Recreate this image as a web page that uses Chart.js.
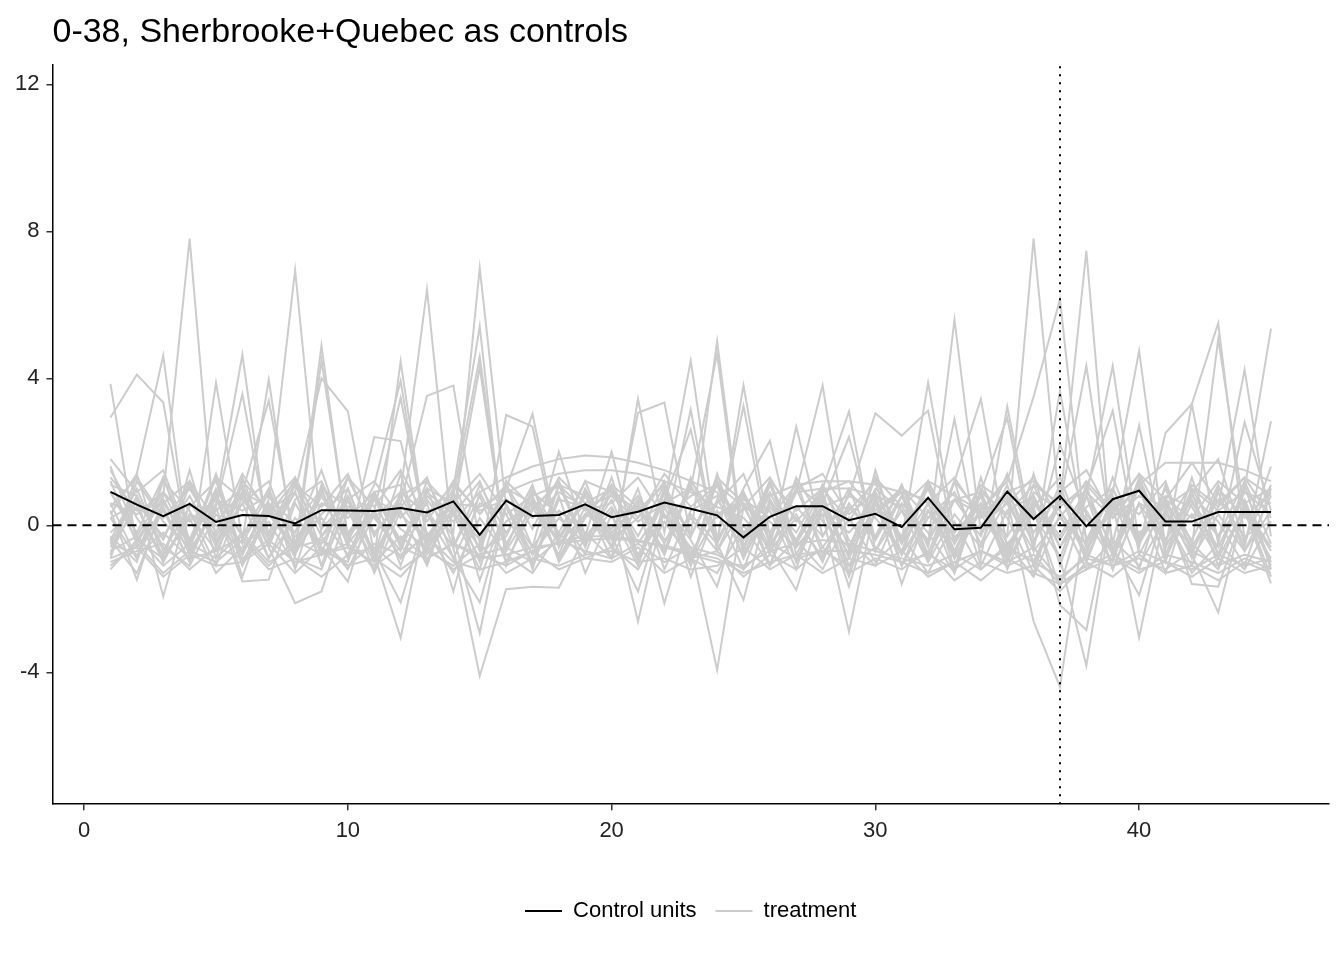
<!DOCTYPE html>
<html>
<head>
<meta charset="UTF-8">
<title>0-38, Sherbrooke+Quebec as controls</title>
<script src="https://cdn.jsdelivr.net/npm/chart.js"></script>
<style>
  body { margin: 0; background: #fff; }
  #chart { display: block; }
</style>
</head>
<body>
<canvas id="chart" width="1344" height="960"></canvas>
<script>
// axis setup
const periods = [1, 2, 3, 4, 5, 6, 7, 8, 9, 10, 11, 12, 13, 14, 15, 16, 17, 18, 19, 20, 21, 22, 23,
                 24, 25, 26, 27, 28, 29, 30, 31, 32, 33, 34, 35, 36, 37, 38, 39, 40, 41, 42, 43, 44, 45];
const xTicks = [0, 10, 20, 30, 40];
const yTicks = [-4, 0, 4, 8, 12];
const xRange = [-1.2, 47.2];
const yRange = [-7.59, 12.53];
const treatmentStart = 37;

// black line
const controlUnits = [
  0.91, 0.56, 0.25, 0.58, 0.09, 0.28, 0.25, 0.05, 0.41, 0.40,
  0.39, 0.47, 0.35, 0.65, -0.26, 0.67, 0.25, 0.28, 0.57, 0.22,
  0.37, 0.62, 0.45, 0.27, -0.33, 0.23, 0.52, 0.52, 0.14, 0.31,
  -0.05, 0.75, -0.11, -0.07, 0.92, 0.17, 0.80, -0.03, 0.71, 0.94,
  0.10, 0.10, 0.36, 0.36, 0.36
];

// grey lines (treatment placebo runs)
const tr01 = [1.2, -0.5, 0.8, 7.8, -0.6, 1.1, -0.4, 0.9, -0.8, 1.3, -0.2, 0.6, -0.5, 0.4, 4.3,
  -0.7, 0.5, 1.1, 0.8, -0.3, 0.7, -0.5, 1.0, 4.67, -0.8, 0.6, -0.2, 1.1, -0.6, 0.9,
  -0.4, 1.2, -0.9, 0.5, -0.3, 7.8, 0.4, -0.8, 1.3, -0.5, 0.7, -0.6, 5.07, 0.3, -0.9];
const tr02 = [-0.4, 1.0, -0.7, 0.5, 1.2, -0.8, 0.7, 6.94, -0.3, 0.4, -1.0, 0.9, 6.42, -0.6, 1.1,
  -0.2, 0.8, -0.9, 0.3, 1.0, -0.5, 0.6, 4.48, -0.4, 0.9, -1.1, 0.5, -0.3, 1.0, -0.7,
  0.4, -0.5, 5.6, -0.2, 0.8, -1.0, 0.6, 7.47, -0.9, 1.2, -0.4, 0.7, -0.8, 1.0, 5.35];
const tr03 = [0.6, -0.9, 1.3, -0.5, 0.8, -0.3, 1.0, -0.7, 4.89, -0.4, 0.9, -0.6, 1.2, -0.2, 7.0,
  0.5, -0.8, 1.1, -0.4, 0.7, -1.0, 0.9, -0.3, 5.01, -0.6, 1.2, -0.5, 0.8, -0.9, 0.6,
  -0.3, 1.0, -0.7, 0.4, 1.2, 3.5, 6.15, -0.5, 0.9, 4.75, -0.6, 3.3, 5.5, -0.4, 1.1];
const tr04 = [0.3, 1.4, 4.62, -0.8, 0.6, 4.64, -0.5, 1.1, -0.3, 0.8, -0.9, 4.46, -0.4, 1.0, 5.41,
  -1.1, 0.7, -0.2, 1.2, -0.6, 0.5, -0.8, 1.1, -0.5, 3.81, -0.3, 0.9, 3.81, -0.7, 1.3,
  -0.4, 3.88, -0.2, 0.6, -1.0, 1.1, -0.6, 0.8, 4.34, -0.5, 1.0, -0.7, 0.5, 4.23, -0.3];
const tr05 = [3.85, -0.6, 0.4, -1.0, 3.88, -0.4, 3.96, -0.8, 4.48, -0.3, 1.1, 3.93, -0.5, 0.8, 4.59,
  -0.6, 1.0, -0.3, 0.6, -0.9, 3.44, -0.2, 3.15, -0.7, 0.9, -0.4, 1.2, -0.8, 0.5, -0.3,
  1.1, -0.6, 2.89, -0.9, 3.23, -0.4, 0.6, 4.34, -0.5, 2.72, -0.8, 1.0, -0.3, 0.7, -1.0];
const tr06 = [2.93, 4.1, 3.34, -0.7, 0.5, 3.57, -0.3, 0.9, 4.0, 3.1, -0.8, 0.6, 3.52, 3.8, -0.5,
  1.0, 3.03, -0.4, 0.8, -0.6, 3.06, 3.34, -0.3, 1.1, -0.9, 0.5, -0.4, 1.0, 3.1, -0.7,
  0.8, -0.5, 1.2, 3.44, -0.6, 0.7, -0.3, 1.0, 3.12, -0.8, 0.6, -0.4, 1.1, -0.6, 2.83];
const tr07 = [-0.8, 0.7, -0.4, 1.2, -0.6, 0.9, 3.39, -0.5, 1.0, -0.9, 0.4, 3.47, -0.3, 0.7, -1.0,
  3.0, 2.69, -0.6, 0.9, -0.2, 0.6, -0.8, 1.3, -0.4, 3.25, -0.6, 2.68, -0.3, 0.8, 3.05,
  2.44, 3.12, -0.5, 0.9, 2.93, -0.7, 3.66, -0.4, 1.0, -0.6, 2.51, 3.3, -0.5, 2.8, 0.4];
const tr08 = [1.6, -0.3, 0.9, -0.5, 1.4, -0.8, 0.6, -0.2, 1.5, -0.6, 2.4, 2.29, -0.7, 0.5, -0.4,
  1.1, -0.6, 2.0, -0.3, 2.0, -0.9, 0.7, 2.6, -0.5, 1.0, 2.3, -0.8, 0.6, 2.4, -0.4,
  1.1, -0.9, 0.7, -0.3, 1.4, -0.6, 2.2, 0.3, -0.7, 1.3, -0.4, 0.9, 1.8, -0.5, 1.6];
const tr09 = [-0.6, 0.5, -1.0, 0.3, -0.7, 0.6, -0.9, 0.2, -0.5, 0.7, -0.8, -3.06, 0.4, -0.6, -4.1,
  -1.74, -1.67, -1.7, -0.3, 0.5, -0.8, 0.3, -0.6, -3.94, 0.5, -0.7, 0.2, -0.9, 0.6, -0.4,
  0.8, -1.0, 0.3, -0.6, 0.7, -2.62, -4.4, 0.4, -0.8, 0.6, -0.5, 0.3, -0.9, 0.5, -0.6];
const tr10 = [0.2, -0.9, 0.6, -0.4, 0.9, -1.1, 0.3, -0.7, 0.8, -0.5, 0.4, -0.9, 0.7, -0.3, -2.94,
  0.6, -0.8, 0.2, -0.5, 0.4, -2.62, 0.5, -0.9, 0.7, -0.4, 0.9, -0.6, 0.3, -2.9, 0.6,
  -0.8, 0.4, -0.7, 0.8, -0.5, 0.3, -0.9, -3.83, 0.6, -3.06, 0.4, -0.8, -2.37, 0.5, -0.7];
const tr11 = [-0.5, 0.8, -1.94, 0.6, -0.3, 0.9, -0.6, -2.12, -1.8, 0.4, -0.7, -2.1, 0.3, -0.9, -2.1,
  0.5, -0.6, 0.4, -0.2, -0.9, 0.6, -2.12, 0.3, -0.5, -2.03, 0.7, -0.4, 0.5, -0.8, 0.9,
  -0.5, 0.6, -0.9, 0.4, -0.6, 0.5, -2.17, -2.85, 0.7, -0.4, 0.6, -0.9, 0.3, -0.7, 0.8];
const tr12 = [0.4, -1.48, 0.7, -0.8, 0.5, -1.53, -1.48, 0.6, -0.6, -1.53, 0.8, -0.4, 0.6, -1.8, 0.9,
  -0.5, 0.7, -0.9, 0.5, -0.3, -1.8, 0.6, -0.4, -1.67, 0.8, -0.6, -1.76, 0.5, -1.67, 0.7,
  -1.6, 0.4, -0.8, 0.9, -0.7, 0.6, -0.4, 0.8, -0.6, -1.9, 0.5, -1.6, -1.67, 0.4, -1.58];
const tr13 = [0.9, -0.4, 0.7, -0.6, 1.0, -0.3, 0.5, -0.8, 0.6, 0.2, 0.9, -0.5, 0.8, 0.1, 0.9,
  1.3, 1.6, 1.8, 1.9, 1.85, 1.7, 1.5, 1.2, 0.9, -0.4, 0.8, 1.1, 1.2, 1.2, 1.1,
  0.9, 0.7, -0.5, 0.6, -0.3, 0.8, -0.6, 0.5, 1.0, -0.4, 0.7, 1.7, 1.7, 1.5, 1.2];
const tr14 = [0.2, 0.6, -0.3, 0.8, -0.5, 1.2, 0.4, -0.6, 0.9, -0.2, 0.7, 0.3, -0.4, 0.6, 0.5,
  0.9, 1.2, 1.4, 1.5, 1.5, 1.4, 1.2, 0.9, 0.5, 0.2, -0.6, 0.9, 1.0, 1.0, 0.8,
  0.5, -0.4, 0.7, 0.3, -0.8, 0.9, 0.4, -0.7, 0.6, -0.3, 0.8, 0.5, -0.6, 0.9, 0.3];
const tr15 = [-0.7, -0.3, -1.1, -0.5, -0.9, -0.2, -1.0, -0.6, -0.4, -1.1, -0.5, -0.8, -0.3, -1.0, -1.2,
  -1.0, -0.7, -0.45, -0.3, -0.3, -0.4, -0.6, -0.8, -1.0, -1.1, -0.7, -0.5, -0.4, -0.5, -0.7,
  -0.9, -1.1, -0.8, -1.2, -0.6, -1.0, -1.4, -0.9, -1.1, -0.7, -1.0, -1.2, -0.8, -1.1, -0.9];
const tr16 = [-1.0, -0.7, -0.5, -1.2, -0.6, -0.9, -0.4, -1.0, -0.8, -0.5, -1.1, -0.6, -0.9, -0.5, -0.9,
  -0.8, -0.6, -0.5, -0.4, -0.35, -0.45, -0.55, -0.75, -0.9, -1.3, -1.0, -0.8, -0.7, -0.7, -0.8,
  -1.0, -1.3, -1.0, -0.7, -1.1, -0.8, -1.6, -1.2, -0.9, -1.3, -0.8, -1.0, -1.3, -0.9, -1.2];
const tr17 = [1.5, 0.2, -0.8, 1.1, -0.4, 0.6, 1.2, -0.7, 0.3, 1.0, -0.9, 0.5, 1.3, -0.6, 0.8,
  -1.0, 0.4, 1.2, -0.5, 0.9, -0.3, 1.1, -0.8, 0.6, 1.4, -0.5, 0.3, -1.0, 0.9, 0.2,
  -0.7, 1.1, -0.4, 0.8, -1.2, 0.5, 1.3, -0.6, 0.4, 1.0, -0.9, 0.6, -0.3, 1.2, -0.5];
const tr18 = [-0.9, 1.2, 0.1, -0.6, 1.3, -1.0, 0.4, 0.9, -1.1, 0.5, 0.2, -0.7, 1.0, -0.9, 0.6,
  0.3, -1.1, 0.7, 0.5, -0.6, 1.0, -1.2, 0.4, 0.8, -0.9, 1.1, -0.5, 0.7, -1.1, 0.3,
  0.9, -0.8, 1.2, -1.1, 0.4, 0.8, -0.9, 1.1, -1.2, 0.6, 0.2, -1.1, 0.9, -0.7, 0.4];
const tr19 = [-0.3, -1.0, 1.2, 0.4, -1.1, 0.8, -0.2, 1.3, -0.7, -1.0, 0.9, 1.1, -0.8, 0.3, -1.2,
  1.2, 0.5, -0.8, 1.0, -0.4, 0.2, 1.2, -1.0, 0.3, 0.6, -1.1, 1.0, -0.6, 0.4, 1.2,
  -1.1, 0.2, 0.9, -0.5, 1.1, -1.1, 0.7, 0.2, -1.0, 1.1, -0.6, 0.8, 0.1, -1.1, 1.0];
const tr20 = [1.1, 0.8, -0.6, -1.1, 0.3, -0.5, 0.9, -1.2, 1.1, -0.3, -1.2, 0.8, -0.5, 1.2, -0.7,
  -0.3, 1.1, -1.0, 0.2, 1.1, -0.9, 0.3, -1.1, 1.2, -0.2, 0.4, -1.2, 1.1, -0.4, -1.1,
  0.6, -0.2, -1.3, 1.0, 0.2, -1.3, 0.9, -1.0, 0.8, -1.2, 1.1, -0.5, -1.2, 0.6, -1.1];
const tr21 = [-0.5, -0.8, -0.2, -0.9, -0.7, -0.3, -1.1, -0.4, -0.8, -0.6, -1.0, -0.3, -0.9, -0.5, -0.8,
  -0.6, -1.0, -0.4, -0.7, -0.9, -0.5, -1.0, -0.6, -0.8, -1.2, -0.5, -0.9, -0.7, -1.1, -0.6,
  -1.0, -0.8, -1.2, -0.7, -1.0, -0.6, -1.5, -0.8, -1.1, -0.9, -1.2, -0.7, -1.1, -0.8, -1.0];
const tr22 = [0.6, 0.3, 0.9, 0.1, 0.7, 0.4, 0.8, 0.0, 1.0, 0.5, 0.2, 0.9, 0.3, 1.1, 0.4,
  0.7, 0.2, 0.9, 0.5, 0.8, 0.1, 0.6, 1.0, 0.3, 0.7, 0.2, 1.1, 0.5, 0.8, 0.4,
  1.0, 0.2, 0.7, 0.9, 0.3, 1.1, 0.6, 0.9, 0.2, 0.8, 0.5, 1.0, 0.4, 0.9, 0.6];
const tr23 = [-1.1, -0.5, -1.3, -0.7, -1.0, -0.4, -1.2, -0.9, -1.4, -0.8, -0.6, -1.2, -0.7, -1.1, -0.5,
  -1.3, -0.9, -1.1, -0.8, -0.7, -1.0, -0.9, -1.2, -1.1, -0.6, -1.2, -0.8, -1.3, -0.9, -1.1,
  -0.7, -1.4, -1.0, -1.5, -0.9, -1.3, -1.6, -1.1, -0.8, -1.2, -1.0, -1.4, -0.9, -1.3, -1.1];
const tr24 = [1.8, 0.9, 1.5, -0.4, 1.3, 0.7, -0.2, 1.1, 0.5, 1.4, -0.3, 0.8, 1.2, 0.4, -0.6,
  1.0, 0.6, -0.4, 1.2, 0.9, 0.4, 1.1, -0.3, 1.3, 0.6, -0.2, 1.0, 1.4, 0.3, 0.9,
  -0.5, 1.2, 0.8, 0.4, 1.3, -0.2, 0.9, 1.5, 0.2, 1.1, 1.7, 1.7, 0.6, 1.3, 0.8];
const tr25 = [-0.2, 0.5, -0.9, 0.3, 0.0, -0.7, 0.6, -0.3, 0.2, -0.8, 0.7, -0.1, -0.6, 0.4, -0.9,
  0.1, 0.6, -0.5, 0.3, -0.1, 0.8, -0.4, 0.2, -0.7, 0.5, 0.1, -0.6, 0.3, -0.2, 0.6,
  -0.8, 0.4, -0.3, 0.0, 0.6, -0.7, 0.2, -0.5, 0.5, -0.2, 0.3, -0.6, 0.7, -0.3, 0.1];
const tr26 = [-0.8, 1.4, -1.0, 1.5, -0.9, 1.3, -0.6, 1.2, -1.1, 1.0, -0.8, 1.4, -1.0, 0.9, -0.7,
  1.2, -1.2, 1.1, -0.6, 1.3, -0.9, 1.0, -1.1, 1.4, -0.7, 1.2, -1.0, 0.9, -1.3, 1.5,
  -0.8, 1.1, -1.2, 1.3, -0.9, 1.4, -1.1, 1.0, -0.7, 1.2, -1.0, 1.3, -0.8, 1.1, -1.2];
const tr27 = [-1.2, -0.4, -0.9, 0.2, -1.3, -0.6, 0.1, -1.1, -0.3, -1.2, 0.3, -0.9, -0.2, -1.3, 0.2,
  -0.8, -1.3, -0.2, -0.9, -0.6, -1.2, 0.1, -0.9, -1.3, 0.0, -1.1, -0.4, -1.2, 0.2, -1.0,
  -0.3, -1.3, 0.1, -1.2, -0.5, -1.4, 0.3, -1.2, -0.4, -1.1, 0.2, -1.3, -0.5, -1.2, 0.1];
const tr28 = [0.5, 1.3, 0.2, 1.0, -0.2, 1.4, 0.3, 1.2, 0.0, 1.3, 0.5, 1.5, 0.1, 1.2, 0.3,
  1.1, -0.1, 1.3, 0.6, 1.0, 0.2, 1.4, 0.5, 1.1, -0.3, 1.2, 0.4, 1.0, 0.1, 1.3,
  0.5, 1.2, -0.2, 1.1, 0.6, 1.3, 0.2, 1.2, 0.4, 1.4, 0.0, 1.1, 0.5, 1.3, 0.2];
const tr29 = [-0.4, -1.3, 0.5, -1.0, 0.8, -1.4, 0.6, -0.9, -1.2, 0.7, -1.3, 0.4, -1.1, 0.9, -1.5,
  0.5, -1.0, 0.8, -1.3, 0.3, -1.1, 0.9, -1.4, 0.4, -1.2, 0.7, -1.0, 0.5, -1.4, 0.8,
  -1.1, 0.6, -1.3, 0.9, -1.0, 0.4, -1.7, 0.8, -1.2, 0.6, -1.3, 0.9, -1.1, 0.5, -1.4];
const tr30 = [0.9, -0.2, 1.3, -0.7, 0.4, 1.0, -0.9, 0.7, 1.2, -0.4, 0.8, -1.1, 0.9, 0.3, 1.2,
  -0.6, 0.9, 0.3, -0.8, 1.1, 0.5, -0.7, 1.2, 0.2, 0.9, -0.8, 1.3, 0.1, -0.6, 1.0,
  0.4, -1.0, 1.2, 0.3, 0.9, -0.5, 1.1, -0.9, 0.7, 0.3, 1.2, -0.8, 1.0, 0.2, 0.9];
const tr31 = [-0.9, -0.6, -1.4, -0.8, -1.1, -1.0, -0.5, -1.3, -0.6, -1.1, -0.9, -1.4, -0.6, -1.2, -0.8,
  -1.1, -0.7, -1.2, -0.9, -1.0, -0.6, -1.3, -0.9, -0.7, -1.4, -0.8, -1.2, -0.6, -1.3, -0.9,
  -1.2, -0.7, -1.5, -1.0, -1.3, -1.1, -1.8, -1.0, -1.4, -0.8, -1.3, -1.1, -1.5, -1.0, -1.3];
const tr32 = [1.3, 0.4, 0.6, 1.2, 0.1, 0.9, 0.5, 1.3, -0.1, 0.7, 1.2, 0.2, 1.0, 0.6, 1.4,
  0.3, 0.8, 1.1, 0.4, 0.6, 1.3, 0.2, 0.8, 1.1, 0.5, 1.3, 0.1, 0.9, 1.2, 0.3,
  1.0, 0.6, 1.3, 0.2, 0.9, 1.2, 0.5, 1.1, 0.3, 1.4, 0.7, 0.2, 1.2, 0.6, 1.0];

const treatment = [tr01, tr02, tr03, tr04, tr05, tr06, tr07, tr08, tr09, tr10, tr11, tr12, tr13,
                   tr14, tr15, tr16, tr17, tr18, tr19, tr20, tr21, tr22, tr23, tr24, tr25, tr26,
                   tr27, tr28, tr29, tr30, tr31, tr32];

const BLACK = '#000000';
const GREY = '#cccccc';

function toPoints(values) {
  return values.map((v, i) => ({ x: periods[i], y: v }));
}

const datasets = [];

// control line on top
datasets.push({
  label: 'Control units',
  data: toPoints(controlUnits),
  borderColor: BLACK,
  borderWidth: 2,
  pointRadius: 0,
  order: 0
});

// zero reference and treatment start
datasets.push({
  label: 'zero',
  data: [{ x: xRange[0], y: 0 }, { x: xRange[1], y: 0 }],
  borderColor: BLACK,
  borderWidth: 2,
  borderDash: [9, 6],
  pointRadius: 0,
  order: 1
});
datasets.push({
  label: 'start',
  data: [{ x: treatmentStart, y: yRange[0] }, { x: treatmentStart, y: yRange[1] }],
  borderColor: BLACK,
  borderWidth: 2,
  borderDash: [2, 6],
  pointRadius: 0,
  order: 1
});

treatment.forEach(series => {
  datasets.push({
    label: 'treatment',
    data: toPoints(series),
    borderColor: GREY,
    borderWidth: 2,
    pointRadius: 0,
    order: 2
  });
});

Chart.defaults.font.family = "'Liberation Sans', Arial, sans-serif";
Chart.defaults.color = '#000';

const axisLine = { display: true, color: BLACK, width: 1.5 };
const tickMarks = {
  display: true,
  drawOnChartArea: false,
  drawTicks: true,
  tickLength: 6,
  color: '#333',
  tickColor: '#333',
  lineWidth: 1.5
};

new Chart(document.getElementById('chart'), {
  type: 'line',
  data: { datasets: datasets },
  options: {
    responsive: false,
    animation: false,
    devicePixelRatio: 1,
    layout: { padding: { left: 8, right: 15, top: 0, bottom: 28 } },
    elements: { line: { tension: 0 } },
    scales: {
      x: {
        type: 'linear',
        min: xRange[0],
        max: xRange[1],
        border: axisLine,
        grid: tickMarks,
        afterBuildTicks: axis => { axis.ticks = xTicks.map(v => ({ value: v })); },
        ticks: { font: { size: 22 }, color: '#222', padding: 8, maxRotation: 0 },
        // empty x title leaves the gap above the legend
        title: { display: true, text: ' ', font: { size: 22 }, padding: { top: 1, bottom: 1 } }
      },
      y: {
        type: 'linear',
        min: yRange[0],
        max: yRange[1],
        border: axisLine,
        grid: tickMarks,
        afterBuildTicks: axis => { axis.ticks = yTicks.map(v => ({ value: v })); },
        ticks: { font: { size: 22 }, color: '#222', padding: 7 }
      }
    },
    plugins: {
      title: {
        display: true,
        text: '0-38, Sherbrooke+Quebec as controls',
        align: 'start',
        fullSize: false,
        color: '#000',
        font: { size: 34, weight: 'normal' },
        padding: { top: 12, bottom: 12 }
      },
      legend: {
        position: 'bottom',
        fullSize: false,
        labels: {
          boxWidth: 37,
          boxHeight: 2,
          padding: 19,
          color: '#000',
          font: { size: 22 },
          generateLabels: () => [
            { text: 'Control units', fillStyle: BLACK, strokeStyle: BLACK, lineWidth: 0, hidden: false, datasetIndex: 0 },
            { text: 'treatment', fillStyle: GREY, strokeStyle: GREY, lineWidth: 0, hidden: false, datasetIndex: 3 }
          ]
        }
      },
      tooltip: { enabled: false }
    }
  }
});
</script>
</body>
</html>
